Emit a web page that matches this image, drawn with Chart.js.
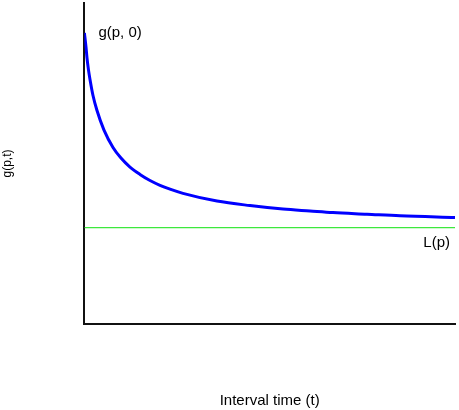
<!DOCTYPE html>
<html>
<head>
<meta charset="utf-8">
<script src="https://cdn.jsdelivr.net/npm/chart.js@4/dist/chart.umd.min.js"></script>
<style>
html,body{margin:0;padding:0;background:#fff;}
canvas{display:block;}
</style>
</head>
<body>
<canvas id="c" width="459" height="410"></canvas>
<script>
// Interval time t (arbitrary units) and g(p,t)
const tValues = [0, 0.043, 0.07, 0.111, 0.151, 0.232, 0.34, 0.529, 0.772, 0.987, 1.23, 1.5, 1.77, 2.04, 2.31, 2.66, 3.578, 4.468, 5.359, 6.087, 6.708, 7.625, 8.516, 10];
const gValues = [90.7, 86.3, 82.9, 79.1, 76.2, 71.2, 66.5, 60.4, 55.0, 51.7, 48.9, 46.6, 44.7, 43.2, 42.0, 40.7, 38.3, 36.9, 35.8, 35.2, 34.7, 34.2, 33.7, 33.2];
const limitValue = 30.0; // L(p)
const xRange = [0, 10];
const yRange = [0, 100];
const labelStart = 'g(p, 0)';
const labelLimit = 'L(p)';
const xTitle = 'Interval time (t)';
const yTitle = 'g(p,t)';

const FONT = 'Arial, "Liberation Sans", sans-serif';

const annot = {
  id: 'annot',
  afterDatasetsDraw(chart) {
    const {ctx, scales: {x, y}} = chart;
    ctx.save();
    ctx.fillStyle = '#000';
    ctx.font = '15px ' + FONT;
    ctx.textBaseline = 'middle';
    ctx.textAlign = 'left';
    ctx.fillText(labelStart, x.getPixelForValue(tValues[0]) + 14, y.getPixelForValue(gValues[0]));
    ctx.textAlign = 'right';
    ctx.fillText(labelLimit, x.getPixelForValue(xRange[1]) - 5, y.getPixelForValue(limitValue) + 15);
    ctx.restore();
  }
};

new Chart(document.getElementById('c'), {
  type: 'line',
  data: {
    datasets: [
      {
        data: tValues.map((t, i) => ({x: t, y: gValues[i]})),
        borderColor: '#0000ff',
        borderWidth: 3,
        pointRadius: 0,
        cubicInterpolationMode: 'monotone',
        fill: false
      },
      {
        data: xRange.map(t => ({x: t, y: limitValue})),
        borderColor: '#3de83d',
        borderWidth: 1.3,
        pointRadius: 0,
        fill: false
      }
    ]
  },
  options: {
    responsive: false,
    animation: false,
    layout: {padding: {left: 0, top: 3, right: 4, bottom: 0}},
    plugins: {legend: {display: false}, tooltip: {enabled: false}},
    scales: {
      x: {
        type: 'linear',
        min: xRange[0], max: xRange[1],
        grid: {display: false, drawTicks: false},
        border: {display: true, color: '#111', width: 2},
        ticks: {display: false},
        title: {display: true, text: xTitle, color: '#000', font: {family: FONT, size: 15}, padding: {top: 68, bottom: 0}}
      },
      y: {
        type: 'linear',
        min: yRange[0], max: yRange[1],
        grid: {display: false, drawTicks: false},
        border: {display: true, color: '#111', width: 2},
        ticks: {display: false},
        title: {display: true, text: yTitle, color: '#000', font: {family: FONT, size: 12}, padding: {top: 0, bottom: 70}}
      }
    }
  },
  plugins: [annot]
});
</script>
</body>
</html>
